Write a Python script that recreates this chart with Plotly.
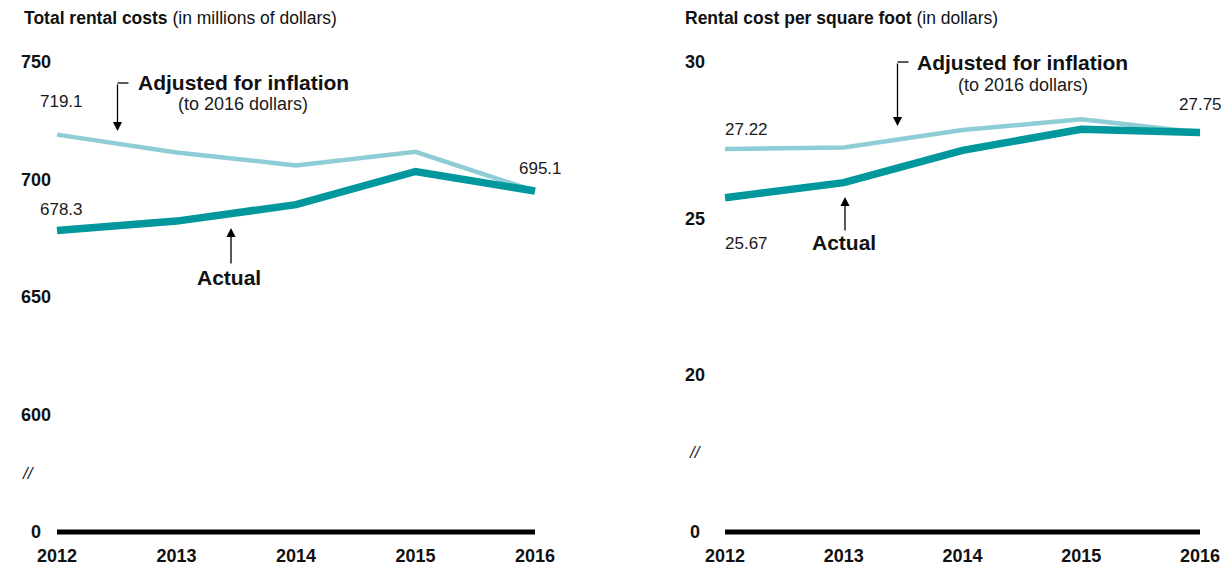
import plotly.graph_objects as go

# ---------------- data ----------------
years = [2012, 2013, 2014, 2015, 2016]
year_labels = ["2012", "2013", "2014", "2015", "2016"]

total_actual = [678.3, 682.3, 689.3, 703.4, 695.1]
total_adjusted = [719.1, 711.5, 706.0, 711.8, 695.1]

psf_actual = [25.67, 26.15, 27.18, 27.85, 27.75]
psf_adjusted = [27.22, 27.27, 27.83, 28.17, 27.75]

left_ytick_vals = [550, 600, 650, 700, 750]
left_ytick_text = ["0", "600", "650", "700", "750"]
right_ytick_vals = [15, 20, 25, 30]
right_ytick_text = ["0", "20", "25", "30"]

# ---------------- style ----------------
W, H = 1228, 571
FONT = "Liberation Sans, Arial, Helvetica, sans-serif"
DARK = "#00979D"
LIGHT = "#8ECDD5"
TXT = "#111111"


def px(x):
    return x / W


def py(y):
    return 1 - y / H


fig = go.Figure()

fig.add_trace(go.Scatter(x=years, y=total_adjusted, mode="lines",
                         line=dict(color=LIGHT, width=4.5), xaxis="x", yaxis="y",
                         hoverinfo="skip", showlegend=False))
fig.add_trace(go.Scatter(x=years, y=total_actual, mode="lines",
                         line=dict(color=DARK, width=7.5), xaxis="x", yaxis="y",
                         hoverinfo="skip", showlegend=False))
fig.add_trace(go.Scatter(x=years, y=psf_adjusted, mode="lines",
                         line=dict(color=LIGHT, width=4.5), xaxis="x2", yaxis="y2",
                         hoverinfo="skip", showlegend=False))
fig.add_trace(go.Scatter(x=years, y=psf_actual, mode="lines",
                         line=dict(color=DARK, width=7.5), xaxis="x2", yaxis="y2",
                         hoverinfo="skip", showlegend=False))

# axis geometry: 2012 -> px 57, 2016 -> px 535 (left); 725 / 1200 (right)
lx0, lx1 = 57, 535
rx0, rx1 = 725, 1200
pad = 0.1
lppy = (lx1 - lx0) / 4
rppy = (rx1 - rx0) / 4
ytop, ybot = 62, 532
ydom = [py(555.5), py(38.5)]

xaxis_common = dict(showgrid=False, zeroline=False, showline=False, ticks="",
                    tickvals=years, ticktext=year_labels,
                    tickfont=dict(family=FONT, size=18, color=TXT, weight="bold"),
                    anchor="free", position=py(ybot + 11), fixedrange=True,
                    automargin=False)

fig.update_layout(
    width=W, height=H, margin=dict(l=0, r=0, t=0, b=0, pad=0, autoexpand=False),
    paper_bgcolor="white", plot_bgcolor="white",
    xaxis=dict(domain=[px(lx0 - pad * lppy), px(lx1 + pad * lppy)],
               range=[2012 - pad, 2016 + pad], **xaxis_common),
    xaxis2=dict(domain=[px(rx0 - pad * rppy), px(rx1 + pad * rppy)],
                range=[2012 - pad, 2016 + pad], **xaxis_common),
    yaxis=dict(domain=ydom, range=[540, 760], showgrid=False, zeroline=False,
               showticklabels=False, showline=False, anchor="x", automargin=False),
    yaxis2=dict(domain=ydom, range=[14.25, 30.75], showgrid=False, zeroline=False,
                showticklabels=False, showline=False, anchor="x2", automargin=False),
    showlegend=False,
)

# baselines (the "0" axis)
fig.add_shape(type="line", xref="x", yref="y", x0=years[0], x1=years[-1],
              y0=left_ytick_vals[0], y1=left_ytick_vals[0],
              line=dict(color="black", width=5))
fig.add_shape(type="line", xref="x2", yref="y2", x0=years[0], x1=years[-1],
              y0=right_ytick_vals[0], y1=right_ytick_vals[0],
              line=dict(color="black", width=5))

ann = []

# y tick labels
for v, t in zip(left_ytick_vals, left_ytick_text):
    ann.append(dict(x=px(36), xref="paper", y=v, yref="y", text=t, showarrow=False,
                    xanchor="center", yanchor="middle",
                    font=dict(family=FONT, size=18, color=TXT, weight="bold")))
for v, t in zip(right_ytick_vals, right_ytick_text):
    ann.append(dict(x=px(695), xref="paper", y=v, yref="y2", text=t, showarrow=False,
                    xanchor="center", yanchor="middle",
                    font=dict(family=FONT, size=18, color=TXT, weight="bold")))

# break marks
brk = dict(family=FONT, size=17, color="#222222", style="italic")
ann.append(dict(x=px(28), y=py(473), xref="paper", yref="paper", text="//", showarrow=False,
                font=brk, xanchor="center", yanchor="middle"))
ann.append(dict(x=px(695), y=py(452), xref="paper", yref="paper", text="//", showarrow=False,
                font=brk, xanchor="center", yanchor="middle"))

# titles
ann.append(dict(x=px(22), y=py(18), xref="paper", yref="paper", xanchor="left", yanchor="middle",
                text="<b>Total rental costs</b> (in millions of dollars)", showarrow=False,
                font=dict(family=FONT, size=17.5, color=TXT)))
ann.append(dict(x=px(683), y=py(18), xref="paper", yref="paper", xanchor="left", yanchor="middle",
                text="<b>Rental cost per square foot</b> (in dollars)", showarrow=False,
                font=dict(family=FONT, size=17.5, color=TXT)))

# value labels
vfont = dict(family=FONT, size=17, color="#1a1a1a")
ann += [
    dict(x=years[0], y=total_adjusted[0], xref="x", yref="y", text=f"{total_adjusted[0]:.1f}",
         showarrow=False, xshift=4, yshift=33, font=vfont),
    dict(x=years[0], y=total_actual[0], xref="x", yref="y", text=f"{total_actual[0]:.1f}",
         showarrow=False, xshift=4, yshift=21, font=vfont),
    dict(x=years[-1], y=total_actual[-1], xref="x", yref="y", text=f"{total_actual[-1]:.1f}",
         showarrow=False, xshift=5, yshift=23, font=vfont),
    dict(x=years[0], y=psf_adjusted[0], xref="x2", yref="y2", text=f"{psf_adjusted[0]:.2f}",
         showarrow=False, xshift=21, yshift=20, font=vfont),
    dict(x=years[0], y=psf_actual[0], xref="x2", yref="y2", text=f"{psf_actual[0]:.2f}",
         showarrow=False, xshift=21, yshift=-46, font=vfont),
    dict(x=years[-1], y=psf_actual[-1], xref="x2", yref="y2", text=f"{psf_actual[-1]:.2f}",
         showarrow=False, xshift=0, yshift=28, font=vfont),
]

# series callouts
bfont = dict(family=FONT, size=21, color=TXT, weight="bold")
sfont = dict(family=FONT, size=18, color="#1a1a1a")
ann += [
    dict(x=px(243), y=py(83), xref="paper", yref="paper", text="Adjusted for inflation",
         showarrow=False, font=bfont, xanchor="center", yanchor="middle"),
    dict(x=px(243), y=py(104), xref="paper", yref="paper", text="(to 2016 dollars)",
         showarrow=False, font=sfont, xanchor="center", yanchor="middle"),
    dict(x=px(1022), y=py(62), xref="paper", yref="paper", text="Adjusted for inflation",
         showarrow=False, font=bfont, xanchor="center", yanchor="middle"),
    dict(x=px(1023), y=py(85), xref="paper", yref="paper", text="(to 2016 dollars)",
         showarrow=False, font=sfont, xanchor="center", yanchor="middle"),
    dict(x=px(229), y=py(277), xref="paper", yref="paper", text="Actual",
         showarrow=False, font=bfont, xanchor="center", yanchor="middle"),
    dict(x=px(844), y=py(243), xref="paper", yref="paper", text="Actual",
         showarrow=False, font=bfont, xanchor="center", yanchor="middle"),
]

# arrows (tip at x,y; tail offset ax, ay in px)
arrow_common = dict(xref="paper", yref="paper", text="", showarrow=True, arrowhead=2,
                    arrowsize=1.4, arrowwidth=1.3, arrowcolor="black", axref="pixel", ayref="pixel")
ann += [
    dict(x=px(117.5), y=py(131), ax=0, ay=-48, **arrow_common),
    dict(x=px(897.5), y=py(126), ax=0, ay=-64, **arrow_common),
    dict(x=px(231), y=py(228), ax=0, ay=37, **arrow_common),
    dict(x=px(845), y=py(197), ax=0, ay=35, **arrow_common),
]
fig.update_layout(annotations=ann)

# bracket ticks
for x0, y0 in [(117.5, 83), (897.5, 62)]:
    fig.add_shape(type="line", xref="paper", yref="paper", x0=px(x0), x1=px(x0 + 11),
                  y0=py(y0), y1=py(y0), line=dict(color="black", width=1.3))

fig.write_html(
    "out.html",
    config={"responsive": False, "displayModeBar": False},
    post_script="document.body.style.margin='0';document.body.style.overflow='hidden';",
)
